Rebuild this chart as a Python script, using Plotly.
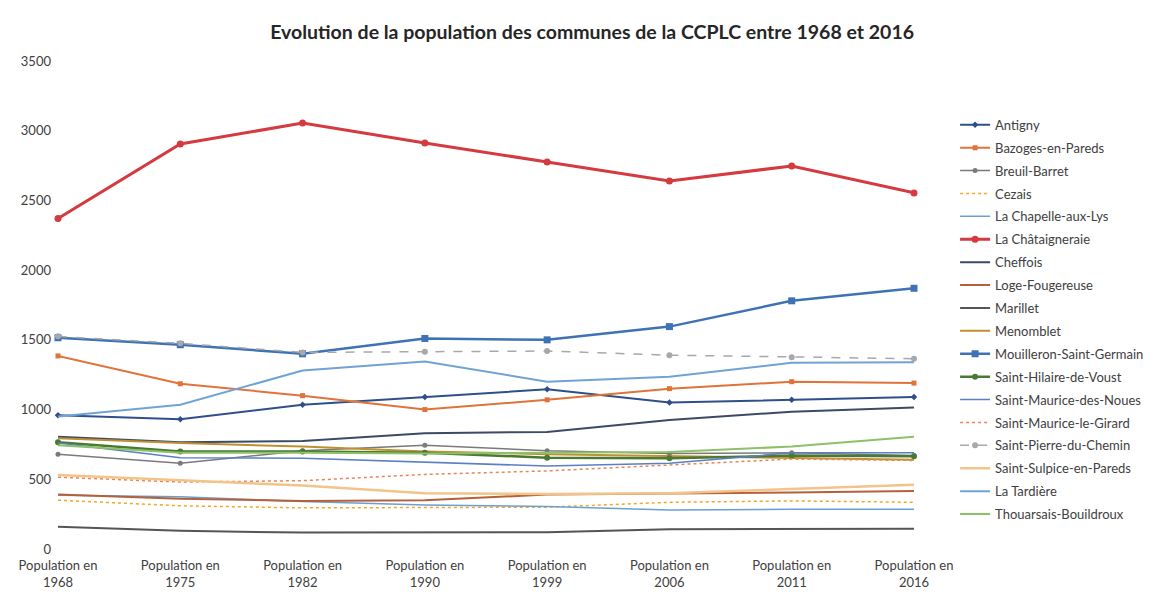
import plotly.graph_objects as go

years = ["Population en<br>1968", "Population en<br>1975", "Population en<br>1982", "Population en<br>1990",
         "Population en<br>1999", "Population en<br>2006", "Population en<br>2011", "Population en<br>2016"]

antigny = [960, 930, 1035, 1090, 1145, 1050, 1070, 1090]
bazoges = [1385, 1185, 1100, 1000, 1070, 1150, 1200, 1190]
breuil = [680, 615, 705, 745, 705, 685, 690, 670]
cezais = [350, 310, 295, 300, 300, 335, 345, 335]
chapelle = [385, 375, 340, 315, 305, 280, 285, 285]
chataigneraie = [2370, 2905, 3055, 2912, 2776, 2640, 2747, 2554]
cheffois = [805, 765, 775, 830, 840, 925, 985, 1015]
loge = [390, 360, 345, 350, 390, 395, 405, 416]
marillet = [160, 130, 118, 120, 120, 142, 142, 145]
menomblet = [795, 760, 735, 700, 680, 665, 650, 640]
mouilleron = [1515, 1465, 1400, 1510, 1500, 1595, 1780, 1870]
hilaire = [765, 700, 700, 690, 655, 650, 670, 665]
noues = [760, 655, 650, 620, 595, 615, 690, 690]
girard = [515, 480, 490, 535, 560, 600, 645, 635]
pierre = [1525, 1475, 1410, 1415, 1420, 1390, 1375, 1365]
sulpice = [530, 495, 455, 400, 395, 400, 430, 460]
tardiere = [950, 1035, 1280, 1345, 1200, 1235, 1335, 1340]
thouarsais = [745, 690, 690, 685, 690, 695, 735, 805]

series = [
    ("Antigny", antigny, "#2e4f8a", 2, "solid", "diamond", 5),
    ("Bazoges-en-Pareds", bazoges, "#e0733a", 2, "solid", "square", 5),
    ("Breuil-Barret", breuil, "#7a7a7a", 1.5, "solid", "circle", 5),
    ("Cezais", cezais, "#f5a623", 1.5, "dot", None, 0),
    ("La Chapelle-aux-Lys", chapelle, "#6a9fd4", 1.5, "solid", None, 0),
    ("La Châtaigneraie", chataigneraie, "#d43a3f", 3, "solid", "circle", 7),
    ("Cheffois", cheffois, "#3b4a66", 2, "solid", None, 0),
    ("Loge-Fougereuse", loge, "#b5603a", 2, "solid", None, 0),
    ("Marillet", marillet, "#555555", 2, "solid", None, 0),
    ("Menomblet", menomblet, "#c09030", 2, "solid", None, 0),
    ("Mouilleron-Saint-Germain", mouilleron, "#3f72b5", 2.5, "solid", "square", 7),
    ("Saint-Hilaire-de-Voust", hilaire, "#4a7a32", 2.5, "solid", "circle", 6),
    ("Saint-Maurice-des-Noues", noues, "#5b7fc4", 1.5, "solid", None, 0),
    ("Saint-Maurice-le-Girard", girard, "#e8855a", 1.5, "dot", None, 0),
    ("Saint-Pierre-du-Chemin", pierre, "#a8a8a8", 1.5, "dash", "circle", 6),
    ("Saint-Sulpice-en-Pareds", sulpice, "#f2c48a", 2.5, "solid", None, 0),
    ("La Tardière", tardiere, "#6fa3d6", 2, "solid", None, 0),
    ("Thouarsais-Bouildroux", thouarsais, "#8cc168", 2, "solid", None, 0),
]

fig = go.Figure()
for name, vals, color, width, dash, sym, size in series:
    mode = "lines+markers" if sym else "lines"
    fig.add_trace(go.Scatter(
        x=years, y=vals, name=name, mode=mode, legendgroup=name,
        line=dict(color=color, width=width, dash=dash),
        marker=dict(symbol=sym or "circle", size=size, color=color),
        cliponaxis=False,
    ))

fig.update_layout(
    width=1161, height=593,
    margin=dict(l=58, r=231, t=61, b=44),
    paper_bgcolor="white", plot_bgcolor="white",
    font=dict(family="Lato, Liberation Sans, sans-serif", color="#404040", size=12),
    title=dict(text="<b>Evolution de la population des communes de la CCPLC entre 1968 et 2016</b>",
               x=0.51, xanchor="center", y=0.945, yanchor="middle",
               font=dict(size=19.5, color="#262626")),
    showlegend=True,
    legend=dict(x=1.048, xanchor="left", y=0.9, yanchor="top", font=dict(size=13, color="#404040"),
                tracegroupgap=3, itemwidth=30, bgcolor="rgba(0,0,0,0)"),
    xaxis=dict(type="category", range=[0, 7], showgrid=False, showline=False, ticks="",
               automargin=False, ticklabelstandoff=7, tickfont=dict(size=13, color="#404040")),
    yaxis=dict(range=[0, 3500], dtick=500, showgrid=False, showline=False, zeroline=False,
               automargin=False, ticks="", ticklabelstandoff=6, tickfont=dict(size=13, color="#404040")),
)

fig.write_html("out.html")
